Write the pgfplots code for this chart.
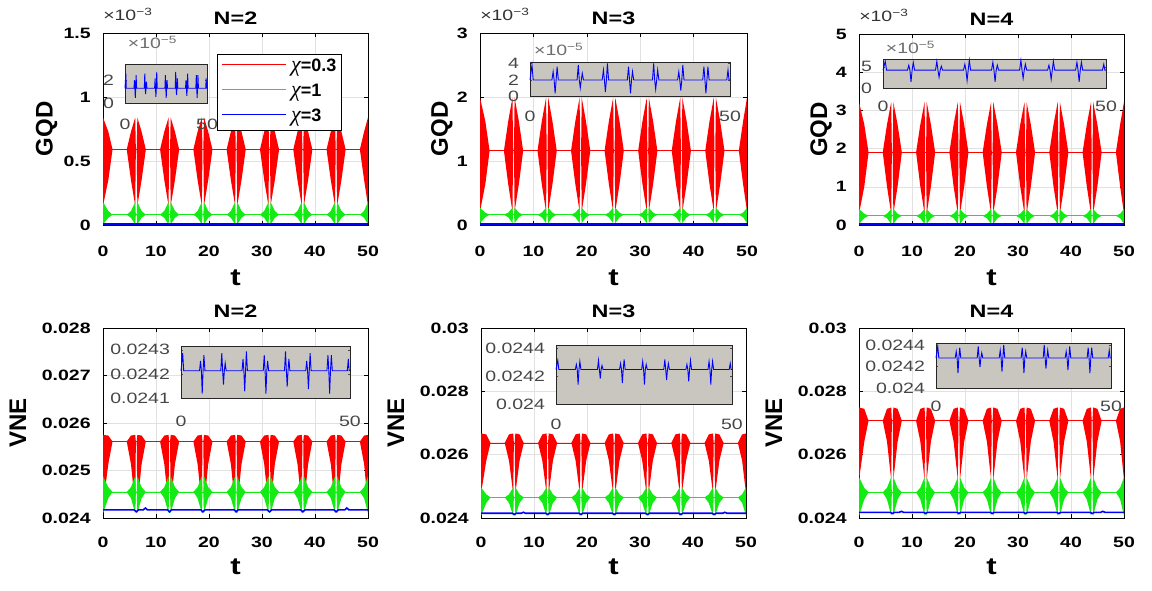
\documentclass[border=0pt]{standalone}
\usepackage{fontspec}
\setmainfont{Liberation Sans}
\newfontfamily\chifont{Liberation Serif}
\usepackage{pgfplots}
\pgfplotsset{compat=1.18}
\usepackage{pgfplotstable}
\usepgfplotslibrary{fillbetween}

\newcommand{\fs}[1]{\fontsize{#1}{#1}\selectfont}
\definecolor{mred}{RGB}{255,0,0}
\definecolor{mgreen}{RGB}{20,235,20}
\definecolor{mblue}{RGB}{0,0,255}
\definecolor{insetbg}{RGB}{200,198,190}
\definecolor{insettxt}{RGB}{70,70,70}
\definecolor{exptxt}{RGB}{110,110,110}
\definecolor{gridc}{RGB}{225,225,225}

% ---------- main data: t, red upper/lower envelope, green upper/lower envelope ----------
\pgfplotstableread{
t ru rl gu gl
0.00 0.84 0.15 0.18 0.005
1.00 0.73 0.35 0.11 0.056
1.80 0.59 0.59 0.08 0.08
4.48 0.59 0.59 0.08 0.08
5.28 0.73 0.35 0.11 0.056
6.08 0.84 0.15 0.18 0.005
6.20 0.59 0.59 0.08 0.08
6.36 0.59 0.59 0.08 0.08
6.48 0.84 0.15 0.18 0.005
7.28 0.73 0.35 0.11 0.056
8.08 0.59 0.59 0.08 0.08
10.77 0.59 0.59 0.08 0.08
11.57 0.73 0.35 0.11 0.056
12.37 0.84 0.15 0.18 0.005
12.49 0.59 0.59 0.08 0.08
12.65 0.59 0.59 0.08 0.08
12.77 0.84 0.15 0.18 0.005
13.57 0.73 0.35 0.11 0.056
14.37 0.59 0.59 0.08 0.08
17.05 0.59 0.59 0.08 0.08
17.85 0.73 0.35 0.11 0.056
18.65 0.84 0.15 0.18 0.005
18.77 0.59 0.59 0.08 0.08
18.93 0.59 0.59 0.08 0.08
19.05 0.84 0.15 0.18 0.005
19.85 0.73 0.35 0.11 0.056
20.65 0.59 0.59 0.08 0.08
23.33 0.59 0.59 0.08 0.08
24.13 0.73 0.35 0.11 0.056
24.93 0.84 0.15 0.18 0.005
25.05 0.59 0.59 0.08 0.08
25.21 0.59 0.59 0.08 0.08
25.33 0.84 0.15 0.18 0.005
26.13 0.73 0.35 0.11 0.056
26.93 0.59 0.59 0.08 0.08
29.62 0.59 0.59 0.08 0.08
30.42 0.73 0.35 0.11 0.056
31.22 0.84 0.15 0.18 0.005
31.34 0.59 0.59 0.08 0.08
31.50 0.59 0.59 0.08 0.08
31.62 0.84 0.15 0.18 0.005
32.42 0.73 0.35 0.11 0.056
33.22 0.59 0.59 0.08 0.08
35.90 0.59 0.59 0.08 0.08
36.70 0.73 0.35 0.11 0.056
37.50 0.84 0.15 0.18 0.005
37.62 0.59 0.59 0.08 0.08
37.78 0.59 0.59 0.08 0.08
37.90 0.84 0.15 0.18 0.005
38.70 0.73 0.35 0.11 0.056
39.50 0.59 0.59 0.08 0.08
42.18 0.59 0.59 0.08 0.08
42.98 0.73 0.35 0.11 0.056
43.78 0.84 0.15 0.18 0.005
43.90 0.59 0.59 0.08 0.08
44.06 0.59 0.59 0.08 0.08
44.18 0.84 0.15 0.18 0.005
44.98 0.73 0.35 0.11 0.056
45.78 0.59 0.59 0.08 0.08
48.47 0.59 0.59 0.08 0.08
49.27 0.73 0.35 0.11 0.056
50.00 0.84 0.15 0.18 0.005
}\tabA

\pgfplotstableread{
t ru rl gu gl
0.00 1.99 0.21 0.27 0.03
1.00 1.62 0.64 0.193 0.121
1.80 1.16 1.16 0.16 0.16
4.48 1.16 1.16 0.16 0.16
5.28 1.62 0.64 0.193 0.121
6.08 1.99 0.21 0.27 0.03
6.20 1.16 1.16 0.16 0.16
6.36 1.16 1.16 0.16 0.16
6.48 1.99 0.21 0.27 0.03
7.28 1.62 0.64 0.193 0.121
8.08 1.16 1.16 0.16 0.16
10.77 1.16 1.16 0.16 0.16
11.57 1.62 0.64 0.193 0.121
12.37 1.99 0.21 0.27 0.03
12.49 1.16 1.16 0.16 0.16
12.65 1.16 1.16 0.16 0.16
12.77 1.99 0.21 0.27 0.03
13.57 1.62 0.64 0.193 0.121
14.37 1.16 1.16 0.16 0.16
17.05 1.16 1.16 0.16 0.16
17.85 1.62 0.64 0.193 0.121
18.65 1.99 0.21 0.27 0.03
18.77 1.16 1.16 0.16 0.16
18.93 1.16 1.16 0.16 0.16
19.05 1.99 0.21 0.27 0.03
19.85 1.62 0.64 0.193 0.121
20.65 1.16 1.16 0.16 0.16
23.33 1.16 1.16 0.16 0.16
24.13 1.62 0.64 0.193 0.121
24.93 1.99 0.21 0.27 0.03
25.05 1.16 1.16 0.16 0.16
25.21 1.16 1.16 0.16 0.16
25.33 1.99 0.21 0.27 0.03
26.13 1.62 0.64 0.193 0.121
26.93 1.16 1.16 0.16 0.16
29.62 1.16 1.16 0.16 0.16
30.42 1.62 0.64 0.193 0.121
31.22 1.99 0.21 0.27 0.03
31.34 1.16 1.16 0.16 0.16
31.50 1.16 1.16 0.16 0.16
31.62 1.99 0.21 0.27 0.03
32.42 1.62 0.64 0.193 0.121
33.22 1.16 1.16 0.16 0.16
35.90 1.16 1.16 0.16 0.16
36.70 1.62 0.64 0.193 0.121
37.50 1.99 0.21 0.27 0.03
37.62 1.16 1.16 0.16 0.16
37.78 1.16 1.16 0.16 0.16
37.90 1.99 0.21 0.27 0.03
38.70 1.62 0.64 0.193 0.121
39.50 1.16 1.16 0.16 0.16
42.18 1.16 1.16 0.16 0.16
42.98 1.62 0.64 0.193 0.121
43.78 1.99 0.21 0.27 0.03
43.90 1.16 1.16 0.16 0.16
44.06 1.16 1.16 0.16 0.16
44.18 1.99 0.21 0.27 0.03
44.98 1.62 0.64 0.193 0.121
45.78 1.16 1.16 0.16 0.16
48.47 1.16 1.16 0.16 0.16
49.27 1.62 0.64 0.193 0.121
50.00 1.99 0.21 0.27 0.03
}\tabB

\pgfplotstableread{
t ru rl gu gl
0.00 3.22 0.29 0.42 0.03
1.00 2.63 1.01 0.294 0.177
1.80 1.90 1.90 0.24 0.24
4.48 1.90 1.90 0.24 0.24
5.28 2.63 1.01 0.294 0.177
6.08 3.22 0.29 0.42 0.03
6.20 1.90 1.90 0.24 0.24
6.36 1.90 1.90 0.24 0.24
6.48 3.22 0.29 0.42 0.03
7.28 2.63 1.01 0.294 0.177
8.08 1.90 1.90 0.24 0.24
10.77 1.90 1.90 0.24 0.24
11.57 2.63 1.01 0.294 0.177
12.37 3.22 0.29 0.42 0.03
12.49 1.90 1.90 0.24 0.24
12.65 1.90 1.90 0.24 0.24
12.77 3.22 0.29 0.42 0.03
13.57 2.63 1.01 0.294 0.177
14.37 1.90 1.90 0.24 0.24
17.05 1.90 1.90 0.24 0.24
17.85 2.63 1.01 0.294 0.177
18.65 3.22 0.29 0.42 0.03
18.77 1.90 1.90 0.24 0.24
18.93 1.90 1.90 0.24 0.24
19.05 3.22 0.29 0.42 0.03
19.85 2.63 1.01 0.294 0.177
20.65 1.90 1.90 0.24 0.24
23.33 1.90 1.90 0.24 0.24
24.13 2.63 1.01 0.294 0.177
24.93 3.22 0.29 0.42 0.03
25.05 1.90 1.90 0.24 0.24
25.21 1.90 1.90 0.24 0.24
25.33 3.22 0.29 0.42 0.03
26.13 2.63 1.01 0.294 0.177
26.93 1.90 1.90 0.24 0.24
29.62 1.90 1.90 0.24 0.24
30.42 2.63 1.01 0.294 0.177
31.22 3.22 0.29 0.42 0.03
31.34 1.90 1.90 0.24 0.24
31.50 1.90 1.90 0.24 0.24
31.62 3.22 0.29 0.42 0.03
32.42 2.63 1.01 0.294 0.177
33.22 1.90 1.90 0.24 0.24
35.90 1.90 1.90 0.24 0.24
36.70 2.63 1.01 0.294 0.177
37.50 3.22 0.29 0.42 0.03
37.62 1.90 1.90 0.24 0.24
37.78 1.90 1.90 0.24 0.24
37.90 3.22 0.29 0.42 0.03
38.70 2.63 1.01 0.294 0.177
39.50 1.90 1.90 0.24 0.24
42.18 1.90 1.90 0.24 0.24
42.98 2.63 1.01 0.294 0.177
43.78 3.22 0.29 0.42 0.03
43.90 1.90 1.90 0.24 0.24
44.06 1.90 1.90 0.24 0.24
44.18 3.22 0.29 0.42 0.03
44.98 2.63 1.01 0.294 0.177
45.78 1.90 1.90 0.24 0.24
48.47 1.90 1.90 0.24 0.24
49.27 2.63 1.01 0.294 0.177
50.00 3.22 0.29 0.42 0.03
}\tabC

\pgfplotstableread{
t ru rl gu gl
0.00 0.02575 0.02425 0.02488 0.02410
1.00 0.025736 0.025134 0.024649 0.024415
1.80 0.02561 0.02561 0.02455 0.02455
4.48 0.02561 0.02561 0.02455 0.02455
5.28 0.025736 0.025134 0.024649 0.024415
6.08 0.02575 0.02425 0.02488 0.02410
6.20 0.02561 0.02561 0.02455 0.02455
6.36 0.02561 0.02561 0.02455 0.02455
6.48 0.02575 0.02425 0.02488 0.02410
7.28 0.025736 0.025134 0.024649 0.024415
8.08 0.02561 0.02561 0.02455 0.02455
10.77 0.02561 0.02561 0.02455 0.02455
11.57 0.025736 0.025134 0.024649 0.024415
12.37 0.02575 0.02425 0.02488 0.02410
12.49 0.02561 0.02561 0.02455 0.02455
12.65 0.02561 0.02561 0.02455 0.02455
12.77 0.02575 0.02425 0.02488 0.02410
13.57 0.025736 0.025134 0.024649 0.024415
14.37 0.02561 0.02561 0.02455 0.02455
17.05 0.02561 0.02561 0.02455 0.02455
17.85 0.025736 0.025134 0.024649 0.024415
18.65 0.02575 0.02425 0.02488 0.02410
18.77 0.02561 0.02561 0.02455 0.02455
18.93 0.02561 0.02561 0.02455 0.02455
19.05 0.02575 0.02425 0.02488 0.02410
19.85 0.025736 0.025134 0.024649 0.024415
20.65 0.02561 0.02561 0.02455 0.02455
23.33 0.02561 0.02561 0.02455 0.02455
24.13 0.025736 0.025134 0.024649 0.024415
24.93 0.02575 0.02425 0.02488 0.02410
25.05 0.02561 0.02561 0.02455 0.02455
25.21 0.02561 0.02561 0.02455 0.02455
25.33 0.02575 0.02425 0.02488 0.02410
26.13 0.025736 0.025134 0.024649 0.024415
26.93 0.02561 0.02561 0.02455 0.02455
29.62 0.02561 0.02561 0.02455 0.02455
30.42 0.025736 0.025134 0.024649 0.024415
31.22 0.02575 0.02425 0.02488 0.02410
31.34 0.02561 0.02561 0.02455 0.02455
31.50 0.02561 0.02561 0.02455 0.02455
31.62 0.02575 0.02425 0.02488 0.02410
32.42 0.025736 0.025134 0.024649 0.024415
33.22 0.02561 0.02561 0.02455 0.02455
35.90 0.02561 0.02561 0.02455 0.02455
36.70 0.025736 0.025134 0.024649 0.024415
37.50 0.02575 0.02425 0.02488 0.02410
37.62 0.02561 0.02561 0.02455 0.02455
37.78 0.02561 0.02561 0.02455 0.02455
37.90 0.02575 0.02425 0.02488 0.02410
38.70 0.025736 0.025134 0.024649 0.024415
39.50 0.02561 0.02561 0.02455 0.02455
42.18 0.02561 0.02561 0.02455 0.02455
42.98 0.025736 0.025134 0.024649 0.024415
43.78 0.02575 0.02425 0.02488 0.02410
43.90 0.02561 0.02561 0.02455 0.02455
44.06 0.02561 0.02561 0.02455 0.02455
44.18 0.02575 0.02425 0.02488 0.02410
44.98 0.025736 0.025134 0.024649 0.024415
45.78 0.02561 0.02561 0.02455 0.02455
48.47 0.02561 0.02561 0.02455 0.02455
49.27 0.025736 0.025134 0.024649 0.024415
50.00 0.02575 0.02425 0.02488 0.02410
}\tabD

\pgfplotstableread{
t ru rl gu gl
0.00 0.02667 0.02477 0.02497 0.02407
1.00 0.02664 0.02581 0.024746 0.024476
1.80 0.02637 0.02637 0.02465 0.02465
4.48 0.02637 0.02637 0.02465 0.02465
5.28 0.02664 0.02581 0.024746 0.024476
6.08 0.02667 0.02477 0.02497 0.02407
6.20 0.02637 0.02637 0.02465 0.02465
6.36 0.02637 0.02637 0.02465 0.02465
6.48 0.02667 0.02477 0.02497 0.02407
7.28 0.02664 0.02581 0.024746 0.024476
8.08 0.02637 0.02637 0.02465 0.02465
10.77 0.02637 0.02637 0.02465 0.02465
11.57 0.02664 0.02581 0.024746 0.024476
12.37 0.02667 0.02477 0.02497 0.02407
12.49 0.02637 0.02637 0.02465 0.02465
12.65 0.02637 0.02637 0.02465 0.02465
12.77 0.02667 0.02477 0.02497 0.02407
13.57 0.02664 0.02581 0.024746 0.024476
14.37 0.02637 0.02637 0.02465 0.02465
17.05 0.02637 0.02637 0.02465 0.02465
17.85 0.02664 0.02581 0.024746 0.024476
18.65 0.02667 0.02477 0.02497 0.02407
18.77 0.02637 0.02637 0.02465 0.02465
18.93 0.02637 0.02637 0.02465 0.02465
19.05 0.02667 0.02477 0.02497 0.02407
19.85 0.02664 0.02581 0.024746 0.024476
20.65 0.02637 0.02637 0.02465 0.02465
23.33 0.02637 0.02637 0.02465 0.02465
24.13 0.02664 0.02581 0.024746 0.024476
24.93 0.02667 0.02477 0.02497 0.02407
25.05 0.02637 0.02637 0.02465 0.02465
25.21 0.02637 0.02637 0.02465 0.02465
25.33 0.02667 0.02477 0.02497 0.02407
26.13 0.02664 0.02581 0.024746 0.024476
26.93 0.02637 0.02637 0.02465 0.02465
29.62 0.02637 0.02637 0.02465 0.02465
30.42 0.02664 0.02581 0.024746 0.024476
31.22 0.02667 0.02477 0.02497 0.02407
31.34 0.02637 0.02637 0.02465 0.02465
31.50 0.02637 0.02637 0.02465 0.02465
31.62 0.02667 0.02477 0.02497 0.02407
32.42 0.02664 0.02581 0.024746 0.024476
33.22 0.02637 0.02637 0.02465 0.02465
35.90 0.02637 0.02637 0.02465 0.02465
36.70 0.02664 0.02581 0.024746 0.024476
37.50 0.02667 0.02477 0.02497 0.02407
37.62 0.02637 0.02637 0.02465 0.02465
37.78 0.02637 0.02637 0.02465 0.02465
37.90 0.02667 0.02477 0.02497 0.02407
38.70 0.02664 0.02581 0.024746 0.024476
39.50 0.02637 0.02637 0.02465 0.02465
42.18 0.02637 0.02637 0.02465 0.02465
42.98 0.02664 0.02581 0.024746 0.024476
43.78 0.02667 0.02477 0.02497 0.02407
43.90 0.02637 0.02637 0.02465 0.02465
44.06 0.02637 0.02637 0.02465 0.02465
44.18 0.02667 0.02477 0.02497 0.02407
44.98 0.02664 0.02581 0.024746 0.024476
45.78 0.02637 0.02637 0.02465 0.02465
48.47 0.02637 0.02637 0.02465 0.02465
49.27 0.02664 0.02581 0.024746 0.024476
50.00 0.02667 0.02477 0.02497 0.02407
}\tabE

\pgfplotstableread{
t ru rl gu gl
0.00 0.02749 0.02520 0.02529 0.02407
1.00 0.027448 0.026415 0.024954 0.024588
1.80 0.02707 0.02707 0.02481 0.02481
4.48 0.02707 0.02707 0.02481 0.02481
5.28 0.027448 0.026415 0.024954 0.024588
6.08 0.02749 0.02520 0.02529 0.02407
6.20 0.02707 0.02707 0.02481 0.02481
6.36 0.02707 0.02707 0.02481 0.02481
6.48 0.02749 0.02520 0.02529 0.02407
7.28 0.027448 0.026415 0.024954 0.024588
8.08 0.02707 0.02707 0.02481 0.02481
10.77 0.02707 0.02707 0.02481 0.02481
11.57 0.027448 0.026415 0.024954 0.024588
12.37 0.02749 0.02520 0.02529 0.02407
12.49 0.02707 0.02707 0.02481 0.02481
12.65 0.02707 0.02707 0.02481 0.02481
12.77 0.02749 0.02520 0.02529 0.02407
13.57 0.027448 0.026415 0.024954 0.024588
14.37 0.02707 0.02707 0.02481 0.02481
17.05 0.02707 0.02707 0.02481 0.02481
17.85 0.027448 0.026415 0.024954 0.024588
18.65 0.02749 0.02520 0.02529 0.02407
18.77 0.02707 0.02707 0.02481 0.02481
18.93 0.02707 0.02707 0.02481 0.02481
19.05 0.02749 0.02520 0.02529 0.02407
19.85 0.027448 0.026415 0.024954 0.024588
20.65 0.02707 0.02707 0.02481 0.02481
23.33 0.02707 0.02707 0.02481 0.02481
24.13 0.027448 0.026415 0.024954 0.024588
24.93 0.02749 0.02520 0.02529 0.02407
25.05 0.02707 0.02707 0.02481 0.02481
25.21 0.02707 0.02707 0.02481 0.02481
25.33 0.02749 0.02520 0.02529 0.02407
26.13 0.027448 0.026415 0.024954 0.024588
26.93 0.02707 0.02707 0.02481 0.02481
29.62 0.02707 0.02707 0.02481 0.02481
30.42 0.027448 0.026415 0.024954 0.024588
31.22 0.02749 0.02520 0.02529 0.02407
31.34 0.02707 0.02707 0.02481 0.02481
31.50 0.02707 0.02707 0.02481 0.02481
31.62 0.02749 0.02520 0.02529 0.02407
32.42 0.027448 0.026415 0.024954 0.024588
33.22 0.02707 0.02707 0.02481 0.02481
35.90 0.02707 0.02707 0.02481 0.02481
36.70 0.027448 0.026415 0.024954 0.024588
37.50 0.02749 0.02520 0.02529 0.02407
37.62 0.02707 0.02707 0.02481 0.02481
37.78 0.02707 0.02707 0.02481 0.02481
37.90 0.02749 0.02520 0.02529 0.02407
38.70 0.027448 0.026415 0.024954 0.024588
39.50 0.02707 0.02707 0.02481 0.02481
42.18 0.02707 0.02707 0.02481 0.02481
42.98 0.027448 0.026415 0.024954 0.024588
43.78 0.02749 0.02520 0.02529 0.02407
43.90 0.02707 0.02707 0.02481 0.02481
44.06 0.02707 0.02707 0.02481 0.02481
44.18 0.02749 0.02520 0.02529 0.02407
44.98 0.027448 0.026415 0.024954 0.024588
45.78 0.02707 0.02707 0.02481 0.02481
48.47 0.02707 0.02707 0.02481 0.02481
49.27 0.027448 0.026415 0.024954 0.024588
50.00 0.02749 0.02520 0.02529 0.02407
}\tabF

% blue (chi=3) curves of the VNE panels
\pgfplotstableread{
t d e f
0.00 0.02417 0.02415 0.02418
5.90 0.02417 0.02415 0.02418
6.28 0.02413 0.02411 0.02414
6.70 0.02417 0.02415 0.02418
7.60 0.02417 0.02415 0.02418
8.00 0.02421 0.02418 0.02421
8.40 0.02417 0.02415 0.02418
12.20 0.02417 0.02415 0.02418
12.57 0.02413 0.02411 0.02414
12.90 0.02417 0.02415 0.02418
18.50 0.02417 0.02415 0.02418
18.85 0.02413 0.02411 0.02414
19.20 0.02417 0.02415 0.02418
24.80 0.02417 0.02415 0.02418
25.13 0.02413 0.02411 0.02414
25.50 0.02417 0.02415 0.02418
31.00 0.02417 0.02415 0.02418
31.42 0.02413 0.02411 0.02414
31.80 0.02417 0.02415 0.02418
37.30 0.02417 0.02415 0.02418
37.70 0.02413 0.02411 0.02414
38.10 0.02417 0.02415 0.02418
43.60 0.02417 0.02415 0.02418
43.98 0.02413 0.02411 0.02414
44.40 0.02417 0.02415 0.02418
45.60 0.02417 0.02415 0.02418
46.00 0.02421 0.02418 0.02421
46.40 0.02417 0.02415 0.02418
50.00 0.02417 0.02415 0.02418
}\tabBV

% inset data (blue, chi=3): a,b,c in units of 1e-5 ; d,e,f VNE
\pgfplotstableread{
t a b c d e f
0.00 1.28 2.0 4.2 0.024213 0.024248 0.02428
0.50 2.56 3.8 6.27 0.024286 0.024313 0.024388
0.80 1.28 2.0 4.2 0.024213 0.024248 0.02428
5.48 1.28 2.0 4.2 0.024213 0.024248 0.02428
5.78 1.99 3.0 5.35 0.024254 0.024284 0.02434
6.03 1.28 2.0 4.2 0.024213 0.024248 0.02428
6.28 0.45 0.40 1.5 0.024118 0.02414 0.02414
6.53 1.28 2.0 4.2 0.024213 0.024248 0.02428
6.78 2.42 3.6 6.04 0.024278 0.024306 0.024376
7.08 1.28 2.0 4.2 0.024213 0.024248 0.02428
11.77 1.28 2.0 4.2 0.024213 0.024248 0.02428
12.07 2.56 3.8 6.27 0.024286 0.024313 0.024388
12.32 1.28 2.0 4.2 0.024213 0.024248 0.02428
12.57 0.78 1.04 2.58 0.024156 0.024183 0.024196
12.82 1.28 2.0 4.2 0.024213 0.024248 0.02428
13.07 1.85 2.8 5.12 0.024245 0.024277 0.024328
13.37 1.28 2.0 4.2 0.024213 0.024248 0.02428
18.05 1.28 2.0 4.2 0.024213 0.024248 0.02428
18.35 2.13 3.2 5.58 0.024262 0.024291 0.024352
18.60 1.28 2.0 4.2 0.024213 0.024248 0.02428
18.85 0.53 0.56 1.77 0.024128 0.024151 0.024154
19.10 1.28 2.0 4.2 0.024213 0.024248 0.02428
19.35 2.70 4.0 6.5 0.024294 0.02432 0.0244
19.65 1.28 2.0 4.2 0.024213 0.024248 0.02428
24.33 1.28 2.0 4.2 0.024213 0.024248 0.02428
24.63 2.42 3.6 6.04 0.024278 0.024306 0.024376
24.88 1.28 2.0 4.2 0.024213 0.024248 0.02428
25.13 0.45 0.40 1.5 0.024118 0.02414 0.02414
25.38 1.28 2.0 4.2 0.024213 0.024248 0.02428
25.63 1.99 3.0 5.35 0.024254 0.024284 0.02434
25.93 1.28 2.0 4.2 0.024213 0.024248 0.02428
30.62 1.28 2.0 4.2 0.024213 0.024248 0.02428
30.92 2.70 4.0 6.5 0.024294 0.02432 0.0244
31.17 1.28 2.0 4.2 0.024213 0.024248 0.02428
31.42 0.70 0.88 2.31 0.024147 0.024172 0.024182
31.67 1.28 2.0 4.2 0.024213 0.024248 0.02428
31.92 2.13 3.2 5.58 0.024262 0.024291 0.024352
32.22 1.28 2.0 4.2 0.024213 0.024248 0.02428
36.90 1.28 2.0 4.2 0.024213 0.024248 0.02428
37.20 1.99 3.0 5.35 0.024254 0.024284 0.02434
37.45 1.28 2.0 4.2 0.024213 0.024248 0.02428
37.70 0.62 0.72 2.04 0.024137 0.024162 0.024168
37.95 1.28 2.0 4.2 0.024213 0.024248 0.02428
38.20 2.56 3.8 6.27 0.024286 0.024313 0.024388
38.50 1.28 2.0 4.2 0.024213 0.024248 0.02428
43.18 1.28 2.0 4.2 0.024213 0.024248 0.02428
43.48 2.42 3.6 6.04 0.024278 0.024306 0.024376
43.73 1.28 2.0 4.2 0.024213 0.024248 0.02428
43.98 0.45 0.40 1.5 0.024118 0.02414 0.02414
44.23 1.28 2.0 4.2 0.024213 0.024248 0.02428
44.48 2.42 3.6 6.04 0.024278 0.024306 0.024376
44.78 1.28 2.0 4.2 0.024213 0.024248 0.02428
49.20 1.28 2.0 4.2 0.024213 0.024248 0.02428
49.50 2.13 3.2 5.58 0.024262 0.024291 0.024352
49.75 1.28 2.0 4.2 0.024213 0.024248 0.02428
50.00 1.28 2.0 4.2 0.024213 0.024248 0.02428
}\tabIn

\pgfplotsset{
  mainax/.style={
    scale only axis, clip=false, xmin=0, xmax=50, xtick={0,10,20,30,40,50},
    grid=major, grid style={line width=0.4pt, gridc},
    axis line style={line width=0.6pt, black},
    tick style={line width=0.5pt, black}, major tick length=4pt,
    /pgf/number format/assume math mode=true,
    tick label style={font=\fs{15}\bfseries, xscale=1.3},
    scaled y ticks=false, scaled x ticks=false,
    yticklabel style={/pgf/number format/fixed, /pgf/number format/precision=4, xshift=-6pt},
    title style={font=\fs{18}\bfseries, xscale=1.3, at={(axis description cs:0.5,1)}, anchor=base},
    xlabel=t,
    xlabel style={font=\fs{24}\bfseries, xscale=1.3, at={(axis description cs:0.5,0)}, anchor=base},
    ylabel style={font=\fs{24}\bfseries, anchor=base},
  },
  toprow/.style={xticklabel style={yshift=-17pt}, title style={yshift=2.5pt}, xlabel style={yshift=-61pt}},
  botrow/.style={xticklabel style={yshift=-15pt}, title style={yshift=5pt}, xlabel style={yshift=-56pt},
    ylabel style={at={(axis description cs:-0.29,0.5)}}},
  inax/.style={
    scale only axis, clip=false, xmin=0, xmax=50, xtick={0,50},
    axis background/.style={fill=insetbg},
    axis line style={line width=0.6pt, black!85},
    tick style={black!70, line width=0.4pt}, major tick length=2pt,
    /pgf/number format/assume math mode=true,
    tick label style={font=\fs{15}, text=insettxt, xscale=1.3},
    scaled y ticks=false,
    yticklabel style={/pgf/number format/fixed, /pgf/number format/precision=4, xshift=-5pt},
  },
}

\begin{document}
\begin{tikzpicture}

% ================= GQD N=2 =================
\begin{axis}[mainax, toprow, at={(103pt,365pt)}, anchor=south west, width=265pt, height=192pt,
  ymin=0, ymax=1.5, ytick={0,0.5,1,1.5}, title={N=2}, ylabel={GQD},
  ylabel style={at={(axis description cs:-0.19,0.5)}}]
\addplot[name path=ruA, draw=none] table[x=t, y=ru]{\tabA};
\addplot[name path=rlA, draw=none] table[x=t, y=rl]{\tabA};
\addplot[mred] fill between[of=ruA and rlA];
\addplot[name path=guA, draw=none] table[x=t, y=gu]{\tabA};
\addplot[name path=glA, draw=none] table[x=t, y=gl]{\tabA};
\addplot[mgreen] fill between[of=guA and glA];
\addplot[mred, line width=0.7pt] coordinates {(0,0.59) (50,0.59)};
\addplot[mgreen, line width=0.7pt] coordinates {(0,0.08) (50,0.08)};
\addplot[mblue, line width=2.2pt] coordinates {(0,0.01) (50,0.01)};
\node[anchor=base west, inner sep=0pt, font=\fs{15}, text=black!80, xscale=1.3] at (rel axis cs:0,1) [yshift=12.5pt] {×10\textsuperscript{−3}};
% legend
\node[draw=black, line width=0.6pt, fill=white, anchor=north west, inner xsep=5pt, inner ysep=4pt,
  font=\fs{18}\bfseries] at (rel axis cs:0.43,0.89)
  {\begin{tabular}{@{}l@{\hspace{5pt}}l@{}}
   \textcolor{mred}{\rule[5.8pt]{64pt}{1.3pt}} & {\chifont\mdseries\itshape\fs{22}χ}=0.3\\[7pt]
   \textcolor{mgreen}{\rule[5.8pt]{64pt}{1.3pt}} & {\chifont\mdseries\itshape\fs{22}χ}=1\\[7pt]
   \textcolor{mblue}{\rule[5.8pt]{64pt}{1.3pt}} & {\chifont\mdseries\itshape\fs{22}χ}=3
   \end{tabular}};
\end{axis}

% ================= GQD N=3 =================
\begin{axis}[mainax, toprow, at={(480pt,365pt)}, anchor=south west, width=267pt, height=192pt,
  ymin=0, ymax=3, ytick={0,1,2,3}, title={N=3}, ylabel={GQD},
  ylabel style={at={(axis description cs:-0.12,0.5)}}]
\addplot[name path=ruB, draw=none] table[x=t, y=ru]{\tabB};
\addplot[name path=rlB, draw=none] table[x=t, y=rl]{\tabB};
\addplot[mred] fill between[of=ruB and rlB];
\addplot[mred, line width=0.7pt] coordinates {(0,1.16) (50,1.16)};
\addplot[name path=guB, draw=none] table[x=t, y=gu]{\tabB};
\addplot[name path=glB, draw=none] table[x=t, y=gl]{\tabB};
\addplot[mgreen] fill between[of=guB and glB];
\addplot[mgreen, line width=0.7pt] coordinates {(0,0.16) (50,0.16)};
\addplot[mblue, line width=2.2pt] coordinates {(0,0.02) (50,0.02)};
\node[anchor=base west, inner sep=0pt, font=\fs{15}, text=black!80, xscale=1.3] at (rel axis cs:0,1) [yshift=12.5pt] {×10\textsuperscript{−3}};
\end{axis}

% ================= GQD N=4 =================
\begin{axis}[mainax, toprow, at={(859pt,365pt)}, anchor=south west, width=265pt, height=191pt,
  ymin=0, ymax=5, ytick={0,1,2,3,4,5}, title={N=4}, ylabel={GQD},
  ylabel style={at={(axis description cs:-0.12,0.5)}}]
\addplot[name path=ruC, draw=none] table[x=t, y=ru]{\tabC};
\addplot[name path=rlC, draw=none] table[x=t, y=rl]{\tabC};
\addplot[mred] fill between[of=ruC and rlC];
\addplot[mred, line width=0.7pt] coordinates {(0,1.90) (50,1.90)};
\addplot[name path=guC, draw=none] table[x=t, y=gu]{\tabC};
\addplot[name path=glC, draw=none] table[x=t, y=gl]{\tabC};
\addplot[mgreen] fill between[of=guC and glC];
\addplot[mgreen, line width=0.7pt] coordinates {(0,0.24) (50,0.24)};
\addplot[mblue, line width=2.2pt] coordinates {(0,0.035) (50,0.035)};
\node[anchor=base west, inner sep=0pt, font=\fs{15}, text=black!80, xscale=1.3] at (rel axis cs:0,1) [yshift=12.5pt] {×10\textsuperscript{−3}};
\end{axis}

% ================= VNE N=2 =================
\begin{axis}[mainax, botrow, at={(103pt,72pt)}, anchor=south west, width=265pt, height=190pt,
  ymin=0.024, ymax=0.028, ytick={0.024,0.025,0.026,0.027,0.028}, title={N=2}, ylabel={VNE}]
\addplot[name path=ruD, draw=none] table[x=t, y=ru]{\tabD};
\addplot[name path=rlD, draw=none] table[x=t, y=rl]{\tabD};
\addplot[mred] fill between[of=ruD and rlD];
\addplot[mred, line width=0.7pt] coordinates {(0,0.02561) (50,0.02561)};
\addplot[name path=guD, draw=none] table[x=t, y=gu]{\tabD};
\addplot[name path=glD, draw=none] table[x=t, y=gl]{\tabD};
\addplot[mgreen] fill between[of=guD and glD];
\addplot[mgreen, line width=0.7pt] coordinates {(0,0.02455) (50,0.02455)};
\addplot[mblue, line width=1.6pt] table[x=t, y=d]{\tabBV};
\end{axis}

% ================= VNE N=3 =================
\begin{axis}[mainax, botrow, at={(481pt,72pt)}, anchor=south west, width=265pt, height=190pt,
  ymin=0.024, ymax=0.03, ytick={0.024,0.026,0.028,0.03}, title={N=3}, ylabel={VNE}]
\addplot[name path=ruE, draw=none] table[x=t, y=ru]{\tabE};
\addplot[name path=rlE, draw=none] table[x=t, y=rl]{\tabE};
\addplot[mred] fill between[of=ruE and rlE];
\addplot[mred, line width=0.7pt] coordinates {(0,0.02637) (50,0.02637)};
\addplot[name path=guE, draw=none] table[x=t, y=gu]{\tabE};
\addplot[name path=glE, draw=none] table[x=t, y=gl]{\tabE};
\addplot[mgreen] fill between[of=guE and glE];
\addplot[mgreen, line width=0.7pt] coordinates {(0,0.02465) (50,0.02465)};
\addplot[mblue, line width=1.6pt] table[x=t, y=e]{\tabBV};
\end{axis}

% ================= VNE N=4 =================
\begin{axis}[mainax, botrow, at={(859pt,72pt)}, anchor=south west, width=265pt, height=190pt,
  ymin=0.024, ymax=0.03, ytick={0.024,0.026,0.028,0.03}, title={N=4}, ylabel={VNE}]
\addplot[name path=ruF, draw=none] table[x=t, y=ru]{\tabF};
\addplot[name path=rlF, draw=none] table[x=t, y=rl]{\tabF};
\addplot[mred] fill between[of=ruF and rlF];
\addplot[mred, line width=0.7pt] coordinates {(0,0.02707) (50,0.02707)};
\addplot[name path=guF, draw=none] table[x=t, y=gu]{\tabF};
\addplot[name path=glF, draw=none] table[x=t, y=gl]{\tabF};
\addplot[mgreen] fill between[of=guF and glF];
\addplot[mgreen, line width=0.7pt] coordinates {(0,0.02481) (50,0.02481)};
\addplot[mblue, line width=1.6pt] table[x=t, y=f]{\tabBV};
\end{axis}

% ================= insets =================
\begin{axis}[inax, at={(125pt,487pt)}, anchor=south west, width=82pt, height=39pt,
  ymin=0, ymax=3.39, ytick={0,2}, xticklabel style={yshift=-12pt}]
\addplot[mblue, line width=0.9pt] table[x=t, y=a]{\tabIn};
\node[anchor=base west, inner sep=0pt, font=\fs{15}, text=exptxt, xscale=1.3] at (rel axis cs:0,1) [xshift=2pt, yshift=15.5pt] {×10\textsuperscript{−5}};
\end{axis}

\begin{axis}[inax, at={(530pt,493.3pt)}, anchor=south west, width=200pt, height=34.4pt,
  ymin=0, ymax=4.12, ytick={0,2,4}, xticklabel style={yshift=-11pt}]
\addplot[mblue, line width=0.9pt] table[x=t, y=b]{\tabIn};
\node[anchor=base west, inner sep=0pt, font=\fs{15}, text=exptxt, xscale=1.3] at (rel axis cs:0,1) [xshift=3pt, yshift=7pt] {×10\textsuperscript{−5}};
\end{axis}

\begin{axis}[inax, at={(883pt,501.7pt)}, anchor=south west, width=223pt, height=29pt,
  ymin=0, ymax=6.72, ytick={0,5}, xticklabel style={yshift=-9pt}]
\addplot[mblue, line width=0.9pt] table[x=t, y=c]{\tabIn};
\node[anchor=base west, inner sep=0pt, font=\fs{15}, text=exptxt, xscale=1.3] at (rel axis cs:0,1) [xshift=2pt, yshift=6pt] {×10\textsuperscript{−5}};
\end{axis}

\begin{axis}[inax, at={(181pt,192pt)}, anchor=south west, width=169pt, height=51.3pt,
  ymin=0.0241, ymax=0.024313, ytick={0.0241,0.0242,0.0243}, xticklabel style={yshift=-14pt}]
\addplot[mblue, line width=0.9pt] table[x=t, y=d]{\tabIn};
\end{axis}

\begin{axis}[inax, at={(556pt,186pt)}, anchor=south west, width=176pt, height=59pt,
  ymin=0.024, ymax=0.024424, ytick={0.024,0.0242,0.0244}, xticklabel style={yshift=-11pt}]
\addplot[mblue, line width=0.9pt] table[x=t, y=e]{\tabIn};
\end{axis}

\begin{axis}[inax, at={(936pt,201.7pt)}, anchor=south west, width=175pt, height=45pt,
  ymin=0.024, ymax=0.024416, ytick={0.024,0.0242,0.0244}, xticklabel style={yshift=-9pt}]
\addplot[mblue, line width=0.9pt] table[x=t, y=f]{\tabIn};
\end{axis}

\pgfresetboundingbox
\useasboundingbox (0,0) rectangle (1152pt,590pt);
\end{tikzpicture}
\end{document}
